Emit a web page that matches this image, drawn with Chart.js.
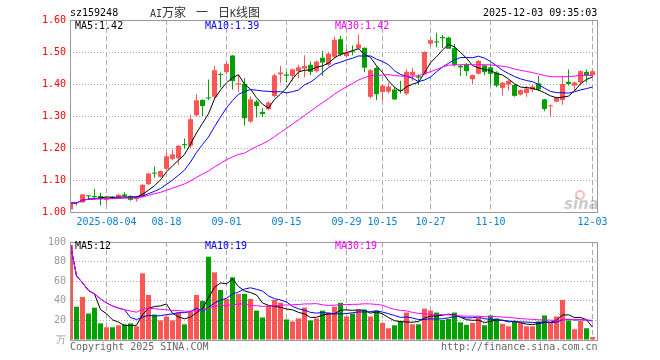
<!DOCTYPE html>
<html>
<head>
<meta charset="utf-8">
<script src="https://cdn.jsdelivr.net/npm/chart.js@4.4.1/dist/chart.umd.min.js"></script>
<style>
  body { margin: 0; background: #fff; width: 660px; height: 360px; overflow: hidden; position: relative; }
  canvas { position: absolute; left: 0; }
  #kc { top: 0; }
  #vc { top: 232px; }
  .t { position: absolute; font-family: "DejaVu Sans Mono", monospace; font-size: 10px; line-height: 12px; white-space: pre; }
  .cjk { font-family: "Noto Sans CJK SC", sans-serif; font-size: 12px; }
</style>
</head>
<body>
<canvas id="kc" width="660" height="232"></canvas>
<canvas id="vc" width="660" height="128"></canvas>

<div class="t" style="left:70px;top:7px;color:#000">sz159248</div>
<div class="t" style="left:150px;top:6px;color:#333">AI<span class="cjk">万家</span></div>
<div class="t cjk" style="left:196px;top:5px;color:#333;line-height:14px">一</div>
<div class="t" style="left:218px;top:6px;color:#333"><span class="cjk">日</span>K<span class="cjk">线图</span></div>
<div class="t" style="left:483px;top:7px;color:#000">2025-12-03 09:35:03</div>

<div class="t" style="left:75px;top:20px;color:#000">MA5:1.42</div>
<div class="t" style="left:205px;top:20px;color:#0000ff">MA10:1.39</div>
<div class="t" style="left:335px;top:20px;color:#ff00ff">MA30:1.42</div>

<div class="t" style="left:75px;top:240px;color:#000">MA5:12</div>
<div class="t" style="left:205px;top:240px;color:#0000ff">MA10:19</div>
<div class="t" style="left:335px;top:240px;color:#ff00ff">MA30:19</div>

<div class="t" style="left:70px;top:341px;color:#666">Copyright 2025 SINA.COM</div>
<div class="t" style="left:441px;top:341px;color:#666">http://finance.sina.com.cn</div>

<script>
// trading days shown (2025)
const dates = [
  "07-25","07-28","07-29","07-30","07-31","08-01","08-04","08-05","08-06","08-07",
  "08-08","08-11","08-12","08-13","08-14","08-15","08-18","08-19","08-20","08-21",
  "08-22","08-25","08-26","08-27","08-28","08-29","09-01","09-02","09-03","09-04",
  "09-05","09-08","09-09","09-10","09-11","09-12","09-15","09-16","09-17","09-18",
  "09-19","09-22","09-23","09-24","09-25","09-26","09-29","09-30","10-09","10-10",
  "10-13","10-14","10-15","10-16","10-17","10-20","10-21","10-22","10-23","10-24",
  "10-27","10-28","10-29","10-30","10-31","11-03","11-04","11-05","11-06","11-07",
  "11-10","11-11","11-12","11-13","11-14","11-17","11-18","11-19","11-20","11-21",
  "11-24","11-25","11-26","11-27","11-28","12-01","12-02","12-03"
];

const open = [
  1.008,1.030,1.030,1.052,1.050,1.050,1.038,1.047,1.044,1.055,
  1.050,1.040,1.048,1.087,1.123,1.110,1.135,1.166,1.168,1.212,
  1.207,1.302,1.350,1.358,1.360,1.431,1.437,1.489,1.398,1.400,
  1.283,1.345,1.313,1.321,1.362,1.430,1.430,1.425,1.440,1.448,
  1.460,1.440,1.482,1.460,1.485,1.540,1.487,1.502,1.511,1.513,
  1.360,1.450,1.375,1.376,1.383,1.382,1.370,1.427,1.424,1.430,
  1.526,1.532,1.547,1.545,1.512,1.457,1.462,1.415,1.432,1.458,
  1.452,1.436,1.388,1.398,1.397,1.367,1.372,1.382,1.402,1.352,
  1.330,1.345,1.350,1.407,1.395,1.405,1.438,1.428
];
const high = [
  1.032,1.031,1.056,1.053,1.072,1.060,1.047,1.050,1.056,1.062,
  1.052,1.050,1.087,1.122,1.142,1.130,1.185,1.195,1.209,1.230,
  1.305,1.368,1.352,1.414,1.456,1.436,1.468,1.490,1.428,1.418,
  1.362,1.350,1.325,1.345,1.432,1.456,1.438,1.448,1.460,1.490,
  1.470,1.474,1.503,1.500,1.548,1.550,1.510,1.520,1.555,1.515,
  1.447,1.455,1.400,1.405,1.390,1.410,1.445,1.450,1.430,1.502,
  1.543,1.560,1.553,1.548,1.525,1.460,1.466,1.430,1.475,1.460,
  1.460,1.440,1.406,1.413,1.400,1.383,1.394,1.398,1.425,1.354,
  1.336,1.360,1.425,1.445,1.408,1.443,1.445,1.443
];
const low = [
  1.005,1.020,1.028,1.040,1.040,1.020,1.024,1.040,1.042,1.045,
  1.035,1.032,1.046,1.085,1.108,1.108,1.130,1.162,1.148,1.198,
  1.200,1.298,1.300,1.350,1.355,1.390,1.430,1.383,1.376,1.270,
  1.278,1.295,1.297,1.318,1.358,1.404,1.405,1.410,1.418,1.420,
  1.428,1.435,1.425,1.455,1.480,1.487,1.482,1.490,1.508,1.437,
  1.355,1.350,1.348,1.370,1.350,1.370,1.365,1.410,1.397,1.428,
  1.518,1.515,1.512,1.515,1.455,1.425,1.425,1.400,1.430,1.427,
  1.395,1.390,1.365,1.380,1.360,1.364,1.360,1.375,1.378,1.315,
  1.298,1.342,1.335,1.395,1.378,1.395,1.405,1.422
];
const close = [
  1.028,1.028,1.055,1.049,1.046,1.042,1.045,1.045,1.054,1.050,
  1.038,1.048,1.085,1.120,1.120,1.128,1.174,1.180,1.207,1.209,
  1.290,1.349,1.331,1.355,1.443,1.428,1.463,1.409,1.402,1.293,
  1.352,1.331,1.306,1.342,1.427,1.436,1.426,1.446,1.452,1.456,
  1.438,1.470,1.467,1.495,1.538,1.492,1.498,1.499,1.524,1.451,
  1.443,1.368,1.395,1.392,1.352,1.378,1.438,1.438,1.420,1.500,
  1.537,1.530,1.543,1.510,1.459,1.452,1.440,1.428,1.472,1.437,
  1.432,1.395,1.404,1.410,1.363,1.381,1.386,1.392,1.383,1.322,
  1.332,1.357,1.400,1.400,1.405,1.440,1.425,1.440
];
// volume, 万
const volume = [
  97,34,44,27,33,17,13,13,15,16,
  17,14,68,46,26,20,24,20,28,16,
  29,46,40,85,69,51,42,64,47,47,
  42,30,23,35,41,38,21,19,22,33,
  20,22,30,28,34,38,24,27,31,31,
  24,30,17.5,12,15,19.5,28,16,16,32,
  30,28,20.5,21.5,28,18,15.5,17.5,22.5,15,
  25,22,16.5,14,19,17.5,14,14,19,25,
  18.5,24,41,20,11,19.5,12,3
];

const tickDates = ["08-04","08-18","09-01","09-15","09-29","10-15","10-27","11-10","12-03"];
const tickLabels = ["2025-08-04","08-18","09-01","09-15","09-29","10-15","10-27","11-10","12-03"];
const priceTicks = [1.0, 1.1, 1.2, 1.3, 1.4, 1.5, 1.6];
const volTicks = [0, 20, 40, 60, 80, 100];
const volTickLabels = ["万", "20", "40", "60", "80", "100"];

const mono = '"DejaVu Sans Mono", monospace';
const RED = '#fa5656';
const GREEN = '#00a000';
const tickPos = tickDates.map(d => dates.indexOf(d));
const barColor = close.map((c, i) => c >= open[i] ? RED : GREEN);

// moving average, shorter window at the start like the source chart
function ma(arr, n) {
  return arr.map((_, i) => {
    const s = arr.slice(Math.max(0, i - n + 1), i + 1);
    return s.reduce((a, b) => a + b, 0) / s.length;
  });
}
const pts = arr => arr.map((v, i) => ({ x: i, y: v }));

const frame = {
  id: 'frame',
  afterDraw(chart) {
    const { ctx, chartArea: a } = chart;
    ctx.save();
    ctx.strokeStyle = '#999';
    ctx.lineWidth = 1;
    ctx.strokeRect(a.left + 0.5, a.top + 0.5, a.right - a.left, a.bottom - a.top);
    ctx.restore();
  }
};

const watermark = {
  id: 'watermark',
  beforeDatasetsDraw(chart) {
    const ctx = chart.ctx;
    ctx.save();
    ctx.strokeStyle = 'rgba(240,110,110,0.45)';
    ctx.lineWidth = 2;
    ctx.beginPath();
    ctx.arc(580, 195, 4, 0, Math.PI * 2);
    ctx.stroke();
    ctx.fillStyle = 'rgba(140,140,140,0.45)';
    ctx.font = 'italic bold 15px "DejaVu Sans", sans-serif';
    ctx.fillText('sina', 564, 209);
    ctx.restore();
  }
};

function xAxis(showLabels) {
  return {
    type: 'linear',
    offset: false,
    min: -1 / 12,
    max: 87.75,
    afterBuildTicks: s => { s.ticks = tickPos.map(v => ({ value: v })); },
    afterFit: s => { s.height = 20; },
    ticks: {
      display: showLabels, autoSkip: false, maxRotation: 0, padding: 4,
      color: '#0a80d0', font: { family: mono, size: 10 },
      callback: (v, i) => tickLabels[i]
    },
    grid: { color: '#aaa', drawTicks: false, offset: false },
    border: { display: false, dash: [5, 3] }
  };
}

const common = {
  responsive: false,
  animation: false,
  events: [],
  plugins: { legend: { display: false }, tooltip: { enabled: false } }
};

new Chart(document.getElementById('kc'), {
  type: 'bar',
  data: {
    datasets: [
      { type: 'line', data: pts(ma(close, 30)), borderColor: '#ff00ff', borderWidth: 1, pointRadius: 0, order: 0 },
      { type: 'line', data: pts(ma(close, 10)), borderColor: '#0000ff', borderWidth: 1, pointRadius: 0, order: 1 },
      { type: 'line', data: pts(ma(close, 5)), borderColor: '#000000', borderWidth: 1, pointRadius: 0, order: 2 },
      { data: open.map((o, i) => ({ x: i, y: [o, close[i]] })), backgroundColor: barColor,
        barThickness: 5, minBarLength: 1, grouped: false, inflateAmount: 0, order: 3 },
      { data: low.map((l, i) => ({ x: i, y: [l, high[i]] })), backgroundColor: barColor,
        barThickness: 1, grouped: false, inflateAmount: 0, order: 4 }
    ]
  },
  options: {
    ...common,
    layout: { padding: { top: 20, right: 63, left: 0, bottom: 0 } },
    scales: {
      x: xAxis(true),
      y: {
        min: 1.0, max: 1.6,
        afterFit: s => { s.width = 70; },
        afterBuildTicks: s => { s.ticks = priceTicks.map(v => ({ value: v })); },
        ticks: { padding: 4, color: '#ff0000', font: { family: mono, size: 10 }, callback: v => v.toFixed(2) },
        grid: { color: '#aaa', drawTicks: false },
        border: { display: false, dash: [1, 2] }
      }
    }
  },
  plugins: [frame, watermark]
});

new Chart(document.getElementById('vc'), {
  type: 'bar',
  data: {
    datasets: [
      { type: 'line', data: pts(ma(volume, 30)), borderColor: '#ff00ff', borderWidth: 1, pointRadius: 0, order: 0 },
      { type: 'line', data: pts(ma(volume, 10)), borderColor: '#0000ff', borderWidth: 1, pointRadius: 0, order: 1 },
      { type: 'line', data: pts(ma(volume, 5)), borderColor: '#000000', borderWidth: 1, pointRadius: 0, order: 2 },
      { data: pts(volume), backgroundColor: barColor, barThickness: 5, grouped: false, inflateAmount: 0, order: 3 }
    ]
  },
  options: {
    ...common,
    layout: { padding: { top: 8, right: 63, left: 0, bottom: 0 } },
    scales: {
      x: xAxis(false),
      y: {
        min: 0, max: 100,
        afterFit: s => { s.width = 70; },
        afterBuildTicks: s => { s.ticks = volTicks.map(v => ({ value: v })); },
        ticks: { padding: 4, color: '#999', font: { family: mono, size: 10 }, callback: (v, i) => volTickLabels[i] },
        grid: { color: '#aaa', drawTicks: false },
        border: { display: false, dash: [1, 2] }
      }
    }
  },
  plugins: [frame]
});
</script>
</body>
</html>
